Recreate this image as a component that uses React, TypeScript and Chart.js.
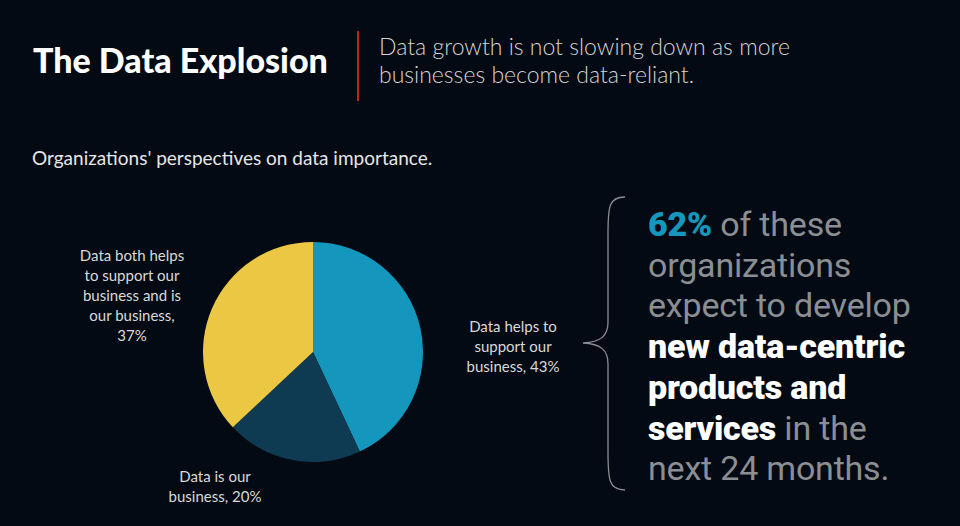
import React, { useEffect, useRef } from "react";
import { Chart, registerables } from "chart.js";

Chart.register(...registerables);

const categories = [
  "Data helps to support our business",
  "Data is our business",
  "Data both helps to support our business and is our business",
];
const values = [43, 20, 37];
const colors = ["#1597bd", "#0e3a52", "#ebc743"];

const BG = "#040a13";
const SANS = "Lato, 'Noto Sans', sans-serif";
const GROT = "Roboto, 'Noto Sans', sans-serif";

export default function App() {
  const ref = useRef<HTMLCanvasElement | null>(null);

  useEffect(() => {
    document.body.style.margin = "0";
    document.body.style.background = BG;
    const chart = new Chart(ref.current as HTMLCanvasElement, {
      type: "pie",
      data: {
        labels: categories,
        datasets: [
          {
            data: values,
            backgroundColor: colors,
            borderWidth: 0,
          },
        ],
      },
      options: {
        responsive: false,
        animation: false,
        layout: { padding: 0 },
        plugins: { legend: { display: false }, tooltip: { enabled: false } },
      },
    });
    return () => chart.destroy();
  }, []);

  const labelStyle: React.CSSProperties = {
    position: "absolute",
    fontFamily: SANS,
    fontSize: 15,
    lineHeight: "20px",
    color: "#d9d9d9",
    textAlign: "center",
  };

  return (
    <div
      style={{
        position: "fixed",
        left: 0,
        top: 0,
        width: 960,
        height: 526,
        background: BG,
        overflow: "hidden",
      }}
    >
      <div
        style={{
          position: "absolute",
          left: 33,
          top: 40,
          fontFamily: SANS,
          fontWeight: 900,
          fontSize: 34,
          color: "#ffffff",
          lineHeight: "40px",
        }}
      >
        The Data Explosion
      </div>
      <div
        style={{
          position: "absolute",
          left: 357,
          top: 31,
          width: 2,
          height: 70,
          background: "#b8281e",
        }}
      />
      <div
        style={{
          position: "absolute",
          left: 379,
          top: 32,
          width: 460,
          fontFamily: SANS,
          fontWeight: 300,
          fontSize: 23,
          lineHeight: "28px",
          color: "#d4d4d4",
        }}
      >
        Data growth is not slowing down as more
        <br />
        businesses become data-reliant.
      </div>
      <div
        style={{
          position: "absolute",
          left: 32,
          top: 146,
          fontFamily: SANS,
          fontSize: 19,
          lineHeight: "24px",
          color: "#e6e6e6",
        }}
      >
        Organizations' perspectives on data importance.
      </div>

      <canvas
        ref={ref}
        width={220}
        height={220}
        style={{ position: "absolute", left: 203, top: 242, width: 220, height: 220 }}
      />

      <div style={{ ...labelStyle, left: 78, top: 245, width: 108 }}>
        {categories[2]}, {values[2]}%
      </div>
      <div style={{ ...labelStyle, left: 455, top: 316, width: 116 }}>
        {categories[0]}, {values[0]}%
      </div>
      <div style={{ ...labelStyle, left: 155, top: 466, width: 120 }}>
        {categories[1]}, {values[1]}%
      </div>

      <svg
        width={60}
        height={300}
        style={{ position: "absolute", left: 575, top: 194 }}
      >
        <path
          d="M 50 3 C 34 3, 33 12, 33 40 L 33 128 C 33 142, 26 148, 8 149 C 26 150, 33 156, 33 170 L 33 258 C 33 286, 34 296, 50 296"
          fill="none"
          stroke="#8a8d92"
          strokeWidth={1.3}
        />
      </svg>

      <div
        style={{
          position: "absolute",
          left: 648,
          top: 204,
          width: 310,
          fontFamily: GROT,
          fontSize: 34,
          lineHeight: "40.7px",
          color: "#8b8e93",
          letterSpacing: "-0.2px",
        }}
      >
        <span style={{ color: "#1597bd", fontWeight: 900 }}>62%</span> of these
        <br />
        organizations
        <br />
        expect to develop
        <br />
        <span style={{ color: "#ffffff", fontWeight: 900 }}>
          new data-centric
          <br />
          products and
          <br />
          services
        </span>{" "}
        in the
        <br />
        next 24 months.
      </div>
    </div>
  );
}
